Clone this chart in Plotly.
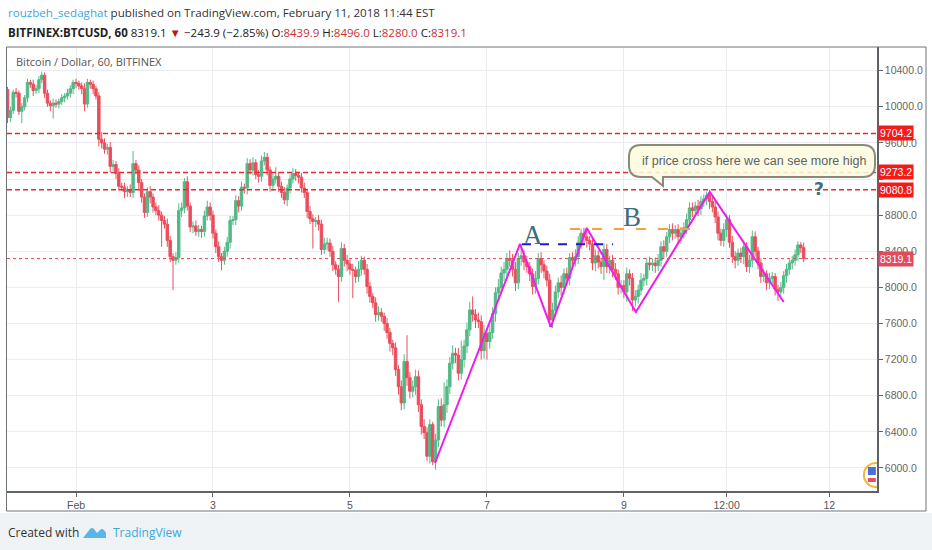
import plotly.graph_objects as go
import pandas as pd

# ---------------- data ----------------
start_time = "2018-01-31 00:00"
first_open = 10190

closes = [
    9880, 9960, 10160, 10150, 9950, 10000, 10100, 10270, 10250, 10180, 10200, 10300, 10350, 10150, 10040, 10010, 10040, 10030, 10060, 10100, 10120, 10150, 10200, 10270,
    10260, 10230, 10200, 10030, 10270, 10250, 10200, 10120, 9640, 9600, 9530, 9550, 9340, 9360, 9260, 9120, 9110, 9060, 9080, 9050, 9370, 9300, 9160, 9000,
    8830, 9060, 9000, 8890, 8850, 8800, 8740, 8700, 8520, 8340, 8300, 8330, 8850, 8880, 9170, 8900, 8670, 8680, 8620, 8640, 8620, 8790, 8890, 8800,
    8600, 8450, 8340, 8300, 8400, 8500, 8740, 8750, 8960, 8900, 9110, 9100, 9370, 9300, 9380, 9250, 9230, 9400, 9440, 9300, 9130, 9200, 9230, 9120,
    9050, 8970, 9100, 9200, 9260, 9240, 9220, 9100, 9050, 8840, 8760, 8730, 8740, 8700, 8420, 8480, 8490, 8400, 8250, 8200, 8120, 8430, 8300, 8260,
    8200, 8190, 8120, 8200, 8300, 8200, 8010, 7900, 7830, 7700, 7720, 7680, 7600, 7500, 7380, 7330, 7090, 6900, 6720, 7180, 7000, 6850, 6900, 7010,
    6700, 6460, 6390, 6130, 6480, 6070, 6310, 6680, 6530, 6700, 6900, 7160, 7270, 7250, 7050, 7200, 7350, 7530, 7750, 7700, 7640, 7620, 7300, 7490,
    7400, 7500, 7710, 7940, 8000, 8160, 8200, 8320, 8300, 8200, 8050, 8320, 8350, 8280, 8230, 8150, 8010, 8100, 8320, 8250, 8180, 8080, 7640, 7750,
    7950, 8050, 8000, 8150, 8100, 8330, 8300, 8340, 8500, 8600, 8560, 8520, 8480, 8270, 8350, 8280, 8230, 8420, 8230, 8300, 8200, 8150, 8000, 8020,
    7950, 8150, 8100, 7860, 7900, 7970, 8080, 8100, 8270, 8250, 8270, 8240, 8300, 8450, 8400, 8560, 8640, 8600, 8640, 8560, 8600, 8660, 8750, 8880,
    8850, 8900, 8870, 8950, 8980, 9020, 8950, 8890, 8780, 8600, 8520, 8640, 8750, 8500, 8340, 8300, 8380, 8340, 8450, 8230, 8300, 8560, 8400, 8270,
    8120, 8150, 8050, 8100, 8120, 7980, 7950, 8000, 8130, 8200, 8270, 8300, 8360, 8470, 8439.9, 8319.1,
]

upper_wick = [
    30, 40, 30, 50, 30, 40, 30, 40, 30, 50, 40, 40, 40, 30, 40, 30, 50, 40, 30, 40, 30, 50, 40, 30,
    40, 30, 40, 60, 40, 30, 40, 30, 40, 80, 50, 40, 60, 50, 40, 60, 40, 50, 40, 60, 140, 40, 50, 40,
    40, 50, 60, 40, 50, 60, 40, 50, 60, 50, 40, 60, 80, 60, 40, 60, 40, 50, 60, 50, 40, 60, 70, 50,
    50, 40, 60, 40, 50, 60, 50, 40, 60, 50, 60, 40, 60, 50, 60, 40, 50, 60, 60, 50, 40, 60, 100, 50,
    50, 60, 40, 50, 60, 50, 40, 50, 60, 40, 60, 50, 40, 60, 50, 70, 60, 50, 60, 40, 50, 70, 50, 60,
    50, 60, 40, 90, 50, 40, 60, 50, 40, 60, 70, 50, 40, 60, 50, 40, 60, 50, 70, 80, 290, 60, 70, 80,
    70, 60, 80, 60, 60, 30, 70, 80, 90, 250, 80, 70, 90, 60, 80, 210, 70, 80, 90, 150, 60, 80, 70, 90,
    60, 80, 70, 60, 90, 70, 80, 60, 90, 70, 80, 60, 130, 60, 70, 50, 60, 80, 60, 70, 50, 60, 70, 80,
    70, 60, 80, 60, 70, 50, 60, 80, 70, 50, 60, 70, 50, 60, 70, 60, 50, 70, 60, 50, 60, 70, 50, 60,
    60, 70, 50, 60, 70, 60, 80, 50, 60, 70, 50, 60, 70, 60, 70, 50, 60, 70, 50, 60, 70, 60, 70, 60,
    60, 50, 70, 60, 50, 40, 60, 50, 70, 60, 50, 70, 60, 50, 70, 60, 50, 60, 70, 50, 60, 70, 60, 50,
    50, 60, 40, 60, 50, 40, 50, 60, 50, 60, 40, 50, 60, 40, 30, 56.1,
]

lower_wick = [
    60, 50, 40, 50, 40, 130, 40, 50, 40, 60, 40, 50, 40, 50, 40, 60, 140, 40, 50, 40, 50, 40, 50, 60,
    50, 40, 60, 80, 40, 50, 60, 40, 80, 60, 50, 60, 70, 50, 60, 50, 40, 70, 60, 50, 60, 50, 70, 60,
    60, 50, 70, 60, 50, 60, 290, 50, 70, 60, 330, 50, 60, 70, 60, 50, 60, 70, 50, 60, 70, 60, 50, 60,
    60, 70, 60, 110, 50, 60, 70, 50, 60, 70, 50, 60, 70, 50, 60, 50, 70, 60, 50, 60, 70, 60, 50, 60,
    60, 50, 70, 60, 50, 60, 70, 50, 60, 70, 60, 300, 60, 70, 60, 50, 70, 60, 70, 60, 280, 60, 70, 80,
    60, 310, 70, 60, 70, 60, 80, 70, 60, 80, 70, 60, 80, 70, 90, 80, 70, 90, 80, 70, 90, 80, 70, 90,
    80, 90, 70, 50, 80, 40, 90, 80, 70, 80, 90, 80, 70, 90, 80, 70, 90, 80, 70, 80, 90, 70, 100, 90,
    200, 80, 70, 90, 80, 70, 90, 80, 70, 80, 90, 70, 80, 90, 70, 80, 90, 80, 70, 90, 80, 70, 80, 90,
    80, 70, 90, 80, 70, 80, 90, 70, 80, 70, 90, 80, 70, 80, 90, 70, 80, 150, 70, 80, 90, 70, 80, 70,
    70, 110, 80, 120, 70, 80, 60, 70, 80, 60, 70, 80, 60, 70, 80, 60, 70, 80, 60, 70, 80, 60, 70, 60,
    70, 60, 80, 70, 60, 70, 80, 60, 70, 80, 60, 70, 80, 60, 70, 90, 60, 70, 80, 60, 70, 80, 60, 70,
    70, 60, 80, 70, 60, 70, 100, 60, 70, 80, 60, 70, 60, 70, 60, 39.1,
]

level_prices = [9704.2, 9273.2, 9080.8]
last_price = 8319.1

zigzag_times = ["2018-02-06 05:48", "2018-02-07 11:36", "2018-02-07 22:24", "2018-02-08 11:00",
                "2018-02-09 04:12", "2018-02-10 06:06", "2018-02-11 08:00"]
zigzag_prices = [6055, 8481, 7562, 8658, 7728, 9057, 7838]

level_a = {"start": "2018-02-07 12:18", "end": "2018-02-08 20:12", "price": 8478}
level_b = {"start": "2018-02-08 05:06", "end": "2018-02-10 02:00", "price": 8647}

x_tick_vals = ["2018-02-01", "2018-02-03", "2018-02-05", "2018-02-07", "2018-02-09",
               "2018-02-10 12:00", "2018-02-12"]
x_tick_text = ["Feb", "3", "5", "7", "9", "12:00", "12"]
y_tick_vals = [6000, 6400, 6800, 7200, 7600, 8000, 8400, 8800, 9200, 9600, 10000, 10400]
y_tick_text = ["6000.0", "6400.0", "6800.0", "7200.0", "7600.0", "8000.0", "8400.0", "8800.0",
               "", "9600.0", "10000.0", "10400.0"]

x_range = ["2018-01-30 23:49", "2018-02-12 16:42"]
y_range = [5745, 10662]

callout_text = "if price cross here we can see more high"

# ---------------- derived series ----------------
times = pd.date_range(start_time, periods=len(closes), freq="h")
opens = [first_open] + closes[:-1]
highs = [max(o, c) + u for o, c, u in zip(opens, closes, upper_wick)]
lows = [min(o, c) - l for o, c, l in zip(opens, closes, lower_wick)]

UP = "#53b987"
DOWN = "#eb4d5c"
TEAL = "#3e6d80"

fig = go.Figure()
fig.add_trace(go.Candlestick(
    x=times, open=opens, high=highs, low=lows, close=closes,
    increasing=dict(line=dict(color=UP, width=1), fillcolor=UP),
    decreasing=dict(line=dict(color=DOWN, width=1), fillcolor=DOWN),
    whiskerwidth=0, showlegend=False, hoverinfo="skip",
))
fig.add_trace(go.Scatter(
    x=zigzag_times, y=zigzag_prices, mode="lines",
    line=dict(color="#f01bf0", width=2), showlegend=False, hoverinfo="skip",
))

shapes = []
PW, PH, ML, MT = 870, 444, 7, 47
def px(xp):
    return (xp - ML) / PW
def py(yp):
    return (MT + PH - yp) / PH

shapes.append(dict(type="rect", xref="paper", yref="paper", x0=px(-10), x1=px(942),
                   y0=py(560), y1=py(513), fillcolor="#eff3f6", line=dict(width=0), layer="below"))
shapes.append(dict(type="rect", xref="paper", yref="paper", x0=px(6.5), x1=px(926),
                   y0=py(511), y1=py(47), line=dict(color="#6f737a", width=1), layer="above"))

for p in level_prices:
    shapes.append(dict(type="line", xref="paper", yref="y", x0=0, x1=1, y0=p, y1=p,
                       line=dict(color="#ea2a2a", width=1.5, dash="5px,3px"), layer="above"))
shapes.append(dict(type="line", xref="paper", yref="y", x0=0, x1=1, y0=last_price, y1=last_price,
                   line=dict(color="#e64a5a", width=1, dash="dot"), layer="above"))
shapes.append(dict(type="line", xref="x", yref="y", x0=level_a["start"], x1=level_a["end"],
                   y0=level_a["price"], y1=level_a["price"],
                   line=dict(color="#1d1dc9", width=2, dash="9px,9px"), layer="above"))
shapes.append(dict(type="line", xref="x", yref="y", x0=level_b["start"], x1=level_b["end"],
                   y0=level_b["price"], y1=level_b["price"],
                   line=dict(color="#f5a33a", width=2, dash="10px,12px"), layer="above"))

# callout bubble (pixel path anchored at tail tip)
bubble = ("M -22,41 L 200,41 Q 212,41 212,29 L 212,21 Q 212,9 200,9 L 0,9 L 0,0 L -11,9 "
          "L -22,9 Q -34,9 -34,21 L -34,29 Q -34,41 -22,41 Z")
shapes.append(dict(type="path", xref="x", yref="y", xsizemode="pixel", ysizemode="pixel",
                   xanchor="2018-02-09 13:42", yanchor=9123, path=bubble,
                   fillcolor="rgba(253,250,222,0.88)", line=dict(color="#8a8a7c", width=2),
                   layer="above"))

# events icon
shapes.append(dict(type="circle", xref="x", yref="y", xsizemode="pixel", ysizemode="pixel",
                   xanchor="2018-02-12 16:18", yanchor=5922, x0=-12, x1=12, y0=-12, y1=12,
                   fillcolor="white", line=dict(color="#f6b53d", width=2), layer="above"))
shapes.append(dict(type="rect", xref="x", yref="y", xsizemode="pixel", ysizemode="pixel",
                   xanchor="2018-02-12 16:18", yanchor=5922, x0=-8, x1=0, y0=0, y1=8,
                   fillcolor="#4a6fd6", line=dict(width=0), layer="above"))
shapes.append(dict(type="rect", xref="x", yref="y", xsizemode="pixel", ysizemode="pixel",
                   xanchor="2018-02-12 16:18", yanchor=5922, x0=-8, x1=0, y0=-7, y1=-3,
                   fillcolor="#e8505f", line=dict(width=0), layer="above"))

# TradingView logo in footer
logo = "M 0,0 L 7,9 Q 9,11 11,9 L 14,5 L 17,8 Q 19,10 21,8 L 23,5 L 23,0 Z"
shapes.append(dict(type="path", xref="paper", yref="paper", xsizemode="pixel", ysizemode="pixel",
                   xanchor=px(83), yanchor=py(538), path=logo,
                   fillcolor="#5bb5e6", line=dict(width=0)))

annotations = []
HF = "Open Sans"
annotations.append(dict(
    xref="paper", yref="paper", x=px(6), y=py(13), xanchor="left", yanchor="middle", showarrow=False,
    text="<span style='color:#3ba7dd'>rouzbeh_sedaghat</span> published on TradingView.com, February 11, 2018 11:44 EST",
    font=dict(family=HF, size=11.6, color="#333333")))
R = "#cc2f2f"
annotations.append(dict(
    xref="paper", yref="paper", x=px(6), y=py(32), xanchor="left", yanchor="middle", showarrow=False,
    text=("<b>BITFINEX:BTCUSD, 60</b> 8319.1 <span style='color:#b71c1c'>▼</span> −243.9 (−2.85%) "
          f"O:<span style='color:{R}'>8439.9</span> H:<span style='color:{R}'>8496.0</span> "
          f"L:<span style='color:{R}'>8280.0</span> C:<span style='color:{R}'>8319.1</span>"),
    font=dict(family=HF, size=11.5, color="#222222")))
annotations.append(dict(
    xref="paper", yref="paper", x=px(14), y=py(62), xanchor="left", yanchor="middle", showarrow=False,
    text="Bitcoin / Dollar, 60, BITFINEX", font=dict(family=HF, size=11, color="#555555")))
annotations.append(dict(
    xref="paper", yref="paper", x=px(6), y=py(532), xanchor="left", yanchor="middle", showarrow=False,
    text="Created with", font=dict(family=HF, size=12, color="#333333")))
annotations.append(dict(
    xref="paper", yref="paper", x=px(111), y=py(532), xanchor="left", yanchor="middle", showarrow=False,
    text="TradingView", font=dict(family=HF, size=12, color="#3ba7dd")))

# price labels on the axis
for p in level_prices:
    annotations.append(dict(xref="paper", yref="y", x=1, y=p, xanchor="left", yanchor="middle",
                            xshift=1, showarrow=False, text=f"{p:.1f}", bgcolor="#f51a1a",
                            borderpad=1, font=dict(family="Liberation Sans", size=10.5, color="white")))
annotations.append(dict(xref="paper", yref="y", x=1, y=last_price, xanchor="left", yanchor="middle",
                        xshift=1, showarrow=False, text=f"{last_price:.1f}", bgcolor="#e34b5d",
                        borderpad=1, font=dict(family="Liberation Sans", size=10.5, color="white")))

# drawing texts
annotations.append(dict(xref="x", yref="y", x="2018-02-07 16:06", y=8585, showarrow=False, text="A",
                        font=dict(family="Liberation Serif", size=27, color=TEAL)))
annotations.append(dict(xref="x", yref="y", x="2018-02-09 02:48", y=8775, showarrow=False, text="B",
                        font=dict(family="Liberation Serif", size=27, color=TEAL)))
annotations.append(dict(xref="x", yref="y", x="2018-02-11 20:18", y=9085, showarrow=False, text="<b>?</b>",
                        font=dict(family="DejaVu Sans", size=17, color=TEAL)))
annotations.append(dict(xref="x", yref="y", x="2018-02-10 21:34", y=9400, showarrow=False, text=callout_text,
                        font=dict(family="Liberation Sans", size=12.5, color="#5b6368")))

fig.update_layout(
    width=932, height=550,
    margin=dict(l=ML, r=932 - ML - PW, t=MT, b=550 - MT - PH),
    paper_bgcolor="white", plot_bgcolor="white",
    showlegend=False, boxgap=0.15, boxgroupgap=0,
    shapes=shapes, annotations=annotations,
    xaxis=dict(
        type="date", range=x_range, rangeslider=dict(visible=False),
        tickvals=x_tick_vals, ticktext=x_tick_text,
        showgrid=True, gridcolor="#e9edf1", gridwidth=1,
        ticks="outside", ticklen=4, tickcolor="#666",
        showline=True, linecolor="#5f6368", linewidth=1.5,
        tickfont=dict(family="Liberation Sans", size=10.5, color="#555555"),
        zeroline=False,
    ),
    yaxis=dict(
        side="right", range=y_range, tickvals=y_tick_vals, ticktext=y_tick_text,
        showgrid=True, gridcolor="#e9edf1", gridwidth=1,
        ticks="outside", ticklen=4, tickcolor="#666",
        showline=True, linecolor="#5f6368", linewidth=1.5,
        tickfont=dict(family="Liberation Sans", size=10.5, color="#666666"),
        zeroline=False,
    ),
)

fig.write_html("out.html", config={"displayModeBar": False},
               post_script="document.body.style.margin='0';document.body.style.overflow='hidden';")
